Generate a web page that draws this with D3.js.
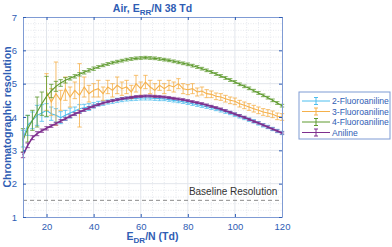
<!DOCTYPE html>
<html>
<head>
<meta charset="utf-8">
<script src="https://cdn.jsdelivr.net/npm/d3@7"></script>
<style>
  body { margin: 0; background: #fff; }
  svg text { font-family: "Liberation Sans", Arial, sans-serif; }
</style>
</head>
<body>
<div id="chart"></div>
<script>
// E_DR/N values (Td)
var fieldTd = d3.range(10, 121, 2)

var seriesNames = ['2-Fluoroaniline', '3-Fluoroaniline', '4-Fluoroaniline', 'Aniline']
var seriesColors = ['#4dbeee', '#f5b04a', '#5e9a2e', '#7e2f8e']

var fluoro2 = [3.35, 3.75, 3.9, 4.05, 4.12, 4.2, 4.1, 4.05, 3.98, 4.05, 4.12, 4.18, 4.25, 4.28, 4.3, 4.35,
  4.4, 4.42, 4.45, 4.47, 4.5, 4.52, 4.54, 4.55, 4.56, 4.57, 4.57, 4.57, 4.56, 4.55, 4.54, 4.52, 4.5, 4.48,
  4.46, 4.43, 4.4, 4.37, 4.34, 4.31, 4.28, 4.24, 4.2, 4.16, 4.12, 4.07, 4.02, 3.97, 3.92, 3.87, 3.81, 3.75,
  3.7, 3.64, 3.58, 3.52]
var fluoro2Err = [0.25, 0.3, 0.25, 0.3, 0.25, 0.2, 0.2, 0.2, 0.18, 0.15, 0.15, 0.12, 0.12, 0.1, 0.1, 0.08,
  0.07, 0.07, 0.06, 0.06, 0.06, 0.06, 0.06, 0.06, 0.06, 0.06, 0.06, 0.06, 0.06, 0.06, 0.05, 0.05, 0.05, 0.05,
  0.05, 0.05, 0.05, 0.05, 0.05, 0.05, 0.05, 0.05, 0.05, 0.05, 0.05, 0.05, 0.05, 0.05, 0.05, 0.05, 0.05, 0.05,
  0.05, 0.05, 0.05, 0.05]

var fluoro3 = [null, null, null, null, null, 4.75, 4.45, 4.7, 4.5, 4.85, 4.6, 4.8, 4.65, 4.9, 4.7, 4.8,
  4.85, 4.7, 4.9, 4.8, 4.95, 4.85, 4.9, 4.75, 5.0, 4.85, 5.05, 4.9, 4.8, 4.95, 4.85, 4.95, 4.9, 5.0,
  4.85, 4.82, 4.85, 4.75, 4.78, 4.7, 4.68, 4.62, 4.6, 4.55, 4.5, 4.47, 4.4, 4.35, 4.3, 4.25, 4.2, 4.15,
  4.12, 4.08, 4.02, 4.0]
var fluoro3Err = [null, null, null, null, null, 0.55, 0.4, 0.95, 0.3, 0.35, 0.3, 0.25, 0.95, 0.3, 0.25, 0.2,
  0.25, 0.2, 0.2, 0.2, 0.25, 0.2, 0.2, 0.2, 0.25, 0.2, 0.2, 0.2, 0.2, 0.15, 0.15, 0.15, 0.15, 0.15,
  0.15, 0.15, 0.15, 0.12, 0.12, 0.12, 0.1, 0.1, 0.1, 0.1, 0.1, 0.1, 0.1, 0.1, 0.1, 0.1, 0.1, 0.1,
  0.1, 0.1, 0.1, 0.1]

var fluoro4 = [3.3, 3.65, 3.9, 4.15, 4.4, 4.62, 4.78, 4.92, 5.02, 5.1, 5.16, 5.22, 5.28, 5.34, 5.4, 5.45,
  5.5, 5.55, 5.59, 5.63, 5.66, 5.69, 5.72, 5.74, 5.76, 5.77, 5.78, 5.77, 5.76, 5.74, 5.72, 5.7, 5.67, 5.64,
  5.61, 5.58, 5.54, 5.5, 5.45, 5.4, 5.35, 5.29, 5.23, 5.17, 5.11, 5.05, 4.98, 4.92, 4.86, 4.79, 4.72, 4.65,
  4.58, 4.5, 4.42, 4.34]
var fluoro4Err = [0.35, 0.4, 0.3, 0.45, 0.35, 0.6, 0.2, 0.15, 0.1, 0.08, 0.05, 0.05, 0.05, 0.05, 0.05, 0.05,
  0.04, 0.04, 0.04, 0.04, 0.04, 0.04, 0.04, 0.04, 0.04, 0.04, 0.04, 0.04, 0.04, 0.04, 0.04, 0.04, 0.04, 0.04,
  0.04, 0.04, 0.04, 0.04, 0.04, 0.04, 0.04, 0.04, 0.04, 0.04, 0.04, 0.04, 0.04, 0.04, 0.04, 0.04, 0.04, 0.04,
  0.04, 0.04, 0.04, 0.04]

var aniline = [2.86, 3.15, 3.38, 3.5, 3.59, 3.66, 3.73, 3.8, 3.88, 3.95, 4.02, 4.09, 4.15, 4.21, 4.27, 4.32,
  4.37, 4.42, 4.46, 4.49, 4.52, 4.55, 4.57, 4.59, 4.61, 4.62, 4.63, 4.63, 4.62, 4.61, 4.6, 4.58, 4.56, 4.54,
  4.52, 4.49, 4.46, 4.43, 4.4, 4.36, 4.32, 4.28, 4.24, 4.19, 4.14, 4.09, 4.04, 3.99, 3.93, 3.87, 3.82, 3.76,
  3.7, 3.64, 3.58, 3.52]
var anilineErr = [0.08, 0.07, 0.06, 0.06, 0.05, 0.05, 0.04, 0.04, 0.04, 0.04, 0.04, 0.04, 0.04, 0.04, 0.04, 0.04,
  0.03, 0.03, 0.03, 0.03, 0.03, 0.03, 0.03, 0.03, 0.03, 0.03, 0.03, 0.03, 0.03, 0.03, 0.03, 0.03, 0.03, 0.03,
  0.03, 0.03, 0.03, 0.03, 0.03, 0.03, 0.03, 0.03, 0.03, 0.03, 0.03, 0.03, 0.03, 0.03, 0.03, 0.03, 0.03, 0.03,
  0.03, 0.03, 0.03, 0.03]

var baselineResolution = 1.5
var xTicks = [20, 40, 60, 80, 100, 120]
var yTicks = [1, 2, 3, 4, 5, 6, 7]

var allValues = [fluoro2, fluoro3, fluoro4, aniline]
var allErrors = [fluoro2Err, fluoro3Err, fluoro4Err, anilineErr]

var axisBlue = '#2f5db4'

var margin = { top: 17, right: 110, bottom: 30, left: 23 },
    width = 392 - margin.left - margin.right,
    height = 247 - margin.top - margin.bottom;

var svg = d3.select("#chart")
    .append("svg")
    .attr("width", 392)
    .attr("height", 247)

var g = svg.append("g")
    .attr("transform", "translate(" + margin.left + "," + margin.top + ")");

var x = d3.scaleLinear().domain([10, 120]).range([0, width])
var y = d3.scaleLinear().domain([1, 7]).range([height, 0])

// minor grid (dotted)
g.append('g').selectAll('line')
    .data(d3.range(15, 120, 5).filter(d => d % 20 != 0))
    .enter().append('line')
    .attr('x1', d => x(d)).attr('x2', d => x(d))
    .attr('y1', 0).attr('y2', height)
    .attr('stroke', '#dfe3ea').attr('stroke-width', 0.8)
    .attr('stroke-dasharray', '1,1.5')
g.append('g').selectAll('line')
    .data(d3.range(1.2, 7, 0.2).filter(d => Math.abs(d - Math.round(d)) > 0.01))
    .enter().append('line')
    .attr('y1', d => y(d)).attr('y2', d => y(d))
    .attr('x1', 0).attr('x2', width)
    .attr('stroke', '#dfe3ea').attr('stroke-width', 0.8)
    .attr('stroke-dasharray', '1,1.5')

// major grid
g.append('g').selectAll('line')
    .data(xTicks.slice(0, -1))
    .enter().append('line')
    .attr('x1', d => x(d)).attr('x2', d => x(d))
    .attr('y1', 0).attr('y2', height)
    .attr('stroke', '#e3e6ec').attr('stroke-width', 1)
g.append('g').selectAll('line')
    .data(yTicks.slice(1, -1))
    .enter().append('line')
    .attr('y1', d => y(d)).attr('y2', d => y(d))
    .attr('x1', 0).attr('x2', width)
    .attr('stroke', '#e3e6ec').attr('stroke-width', 1)

// baseline
g.append('line')
    .attr('x1', 0).attr('x2', width)
    .attr('y1', y(baselineResolution)).attr('y2', y(baselineResolution))
    .attr('stroke', '#8c8c8c').attr('stroke-width', 1)
    .attr('stroke-dasharray', '4,3')
g.append('text')
    .attr('x', x(118))
    .attr('y', y(baselineResolution) - 5)
    .attr('text-anchor', 'end')
    .style('font-size', '10px')
    .style('fill', '#333')
    .text('Baseline Resolution')

// series with error bars
var cap = 2.2
seriesNames.forEach(function (name, i) {
    var pts = fieldTd.map((t, j) => ({ t: t, v: allValues[i][j], e: allErrors[i][j] }))
        .filter(d => d.v != null)
    var sg = g.append('g').attr('stroke', seriesColors[i]).attr('fill', 'none')

    var bars = sg.selectAll('.eb').data(pts).enter().append('g').attr('class', 'eb')
    bars.append('line')
        .attr('x1', d => x(d.t)).attr('x2', d => x(d.t))
        .attr('y1', d => y(d.v - d.e)).attr('y2', d => y(d.v + d.e))
        .attr('stroke-width', 0.8)
    bars.append('line')
        .attr('x1', d => x(d.t) - cap).attr('x2', d => x(d.t) + cap)
        .attr('y1', d => y(d.v - d.e)).attr('y2', d => y(d.v - d.e))
        .attr('stroke-width', 0.8)
    bars.append('line')
        .attr('x1', d => x(d.t) - cap).attr('x2', d => x(d.t) + cap)
        .attr('y1', d => y(d.v + d.e)).attr('y2', d => y(d.v + d.e))
        .attr('stroke-width', 0.8)

    sg.append('path')
        .datum(pts)
        .attr('stroke-width', i == 3 ? 1.6 : 1.1)
        .attr('d', d3.line().x(d => x(d.t)).y(d => y(d.v)))
})

// axes (box, ticks inside)
var xAxis = g.append('g')
    .attr('transform', 'translate(0,' + height + ')')
    .call(d3.axisBottom(x).tickValues(xTicks).tickSizeInner(-3).tickSizeOuter(0).tickPadding(6))
var xTop = g.append('g')
    .call(d3.axisTop(x).tickValues(xTicks).tickSizeInner(-3).tickSizeOuter(0).tickFormat(''))
var yAxis = g.append('g')
    .call(d3.axisLeft(y).tickValues(yTicks).tickSizeInner(-3).tickSizeOuter(0).tickPadding(6)
        .tickFormat(d3.format('d')))
var yRight = g.append('g')
    .attr('transform', 'translate(' + width + ',0)')
    .call(d3.axisRight(y).tickValues(yTicks).tickSizeInner(-3).tickSizeOuter(0).tickFormat(''))

;[xAxis, xTop, yAxis, yRight].forEach(function (a) {
    a.selectAll('path').attr('stroke', '#7f9bd4').attr('stroke-width', 1)
    a.selectAll('line').attr('stroke', axisBlue)
    a.selectAll('text').style('fill', axisBlue).style('font-size', '9.5px')
        .style('font-family', '"Liberation Sans", Arial, sans-serif')
})

// title and labels
var title = svg.append('text')
    .attr('x', margin.left + width / 2)
    .attr('y', 12)
    .attr('text-anchor', 'middle')
    .style('font-size', '10.5px')
    .style('font-weight', 'bold')
    .style('fill', axisBlue)
title.append('tspan').text('Air, E')
title.append('tspan').attr('dy', 3).style('font-size', '8px').text('RR')
title.append('tspan').attr('dy', -3).text('/N 38 Td')

var xl = svg.append('text')
    .attr('x', margin.left + width / 2)
    .attr('y', 240)
    .attr('text-anchor', 'middle')
    .style('font-size', '10.5px')
    .style('font-weight', 'bold')
    .style('fill', axisBlue)
xl.append('tspan').text('E')
xl.append('tspan').attr('dy', 3).style('font-size', '8px').text('DR')
xl.append('tspan').attr('dy', -3).text('/N (Td)')

svg.append('text')
    .attr('transform', 'translate(11,' + (margin.top + height / 2) + ') rotate(-90)')
    .attr('text-anchor', 'middle')
    .style('font-size', '10.5px')
    .style('font-weight', 'bold')
    .style('fill', axisBlue)
    .text('Chromatographic resolution')

// legend
var lg = svg.append('g').attr('transform', 'translate(299,92)')
lg.append('rect')
    .attr('width', 91).attr('height', 47)
    .attr('fill', '#fff').attr('stroke', '#7f9bd4').attr('stroke-width', 1)
seriesNames.forEach(function (name, i) {
    var ly = 9 + i * 10.5
    var c = seriesColors[i]
    lg.append('line').attr('x1', 3).attr('x2', 31).attr('y1', ly).attr('y2', ly)
        .attr('stroke', c).attr('stroke-width', 1)
    lg.append('line').attr('x1', 17).attr('x2', 17).attr('y1', ly - 3.5).attr('y2', ly + 3.5)
        .attr('stroke', c).attr('stroke-width', 1)
    lg.append('line').attr('x1', 15).attr('x2', 19).attr('y1', ly - 3.5).attr('y2', ly - 3.5)
        .attr('stroke', c).attr('stroke-width', 1)
    lg.append('line').attr('x1', 15).attr('x2', 19).attr('y1', ly + 3.5).attr('y2', ly + 3.5)
        .attr('stroke', c).attr('stroke-width', 1)
    lg.append('text').attr('x', 33).attr('y', ly + 3)
        .style('font-size', '8.6px').style('fill', axisBlue)
        .text(name)
})
</script>
</body>
</html>
